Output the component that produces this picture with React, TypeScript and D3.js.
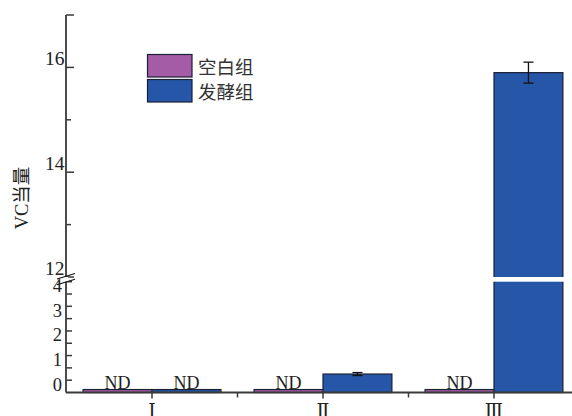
import React from "react";
import * as d3 from "d3";

// Sample groups along the x axis
const categories = ["Ⅰ", "Ⅱ", "Ⅲ"];
// Series names (legend)
const seriesNames = ["空白组", "发酵组"];
// Not-detected entries are drawn as a thin stub just above the baseline
const ND = -0.38;
const blankValues = [ND, ND, ND];
const fermentValues = [ND, 0.25, 15.9];
const fermentErrors = [0, 0.06, 0.2];
const blankLabels = ["ND", "ND", "ND"];
const fermentLabels = ["ND", "", ""];
// Axis ticks for the two segments of the broken y axis
const upperTicks = [12, 13, 14, 15, 16, 17];
const upperLabels = [12, 14, 16];
const lowerTicks = [0, 0.5, 1, 1.5, 2, 2.5, 3, 3.5, 4];
const lowerLabels = [0, 1, 2, 3, 4];

const W = 572;
const H = 416;
const AXIS_X = 66;
const BASE_Y = 392.5;
const colors = ["#a55ca6", "#2556a7"];
const outline = "#1b1f33";
const axisColor = "#3a3a3a";
const serif = "'Liberation Serif', 'Times New Roman', 'DejaVu Serif', serif";
const cjk = "'Noto Sans CJK SC', sans-serif";

export default function App() {
  const x = d3.scaleBand<string>().domain(categories).range([AXIS_X + 0.5, AXIS_X + 0.5 + 171 * 3]).padding(0);
  const yUpper = d3.scaleLinear().domain([12, 17]).range([277, 15]);
  const yLower = d3.scaleLinear().domain([-0.5, 4]).range([BASE_Y, 281.7]);
  const y = (v: number) => (v > 4 ? yUpper(v) : yLower(v));
  const barW = x.bandwidth() * 0.403;

  const series = [blankValues, fermentValues];
  const labels = [blankLabels, fermentLabels];

  return (
    <svg width={W} height={H} style={{ position: "absolute", left: 0, top: 0, background: "#fff" }}>
      <rect width={W} height={H} fill="#fff" />
      {/* bars */}
      {series.map((vals, s) =>
        vals.map((v, i) => {
          const cx = x(categories[i])! + x.bandwidth() / 2;
          const bx = s === 0 ? cx - barW : cx;
          const top = y(v);
          return (
            <g key={`b${s}-${i}`}>
              <rect x={bx} y={top} width={barW} height={BASE_Y - top} fill={colors[s]} stroke={outline} strokeWidth={1.2} />
              {v > 4 && (
                <rect x={bx - 1.5} y={yUpper(12)} width={barW + 3} height={yLower(4) - yUpper(12)} fill="#fff" />
              )}
            </g>
          );
        })
      )}
      {/* error bars */}
      {fermentValues.map((v, i) => {
        const e = fermentErrors[i];
        if (!e) return null;
        const cx = x(categories[i])! + x.bandwidth() / 2 + barW / 2;
        const y1 = y(v + e);
        const y2 = y(v - e);
        return (
          <g key={`e${i}`} stroke="#111" strokeWidth={1.3}>
            <line x1={cx} x2={cx} y1={y1} y2={y2} />
            <line x1={cx - 5} x2={cx + 5} y1={y1} y2={y1} />
            <line x1={cx - 5} x2={cx + 5} y1={y2} y2={y2} />
          </g>
        );
      })}
      {/* ND labels */}
      {labels.map((ls, s) =>
        ls.map((t, i) => {
          if (!t) return null;
          const cx = x(categories[i])! + x.bandwidth() / 2;
          const bx = s === 0 ? cx - barW / 2 : cx + barW / 2;
          return (
            <text key={`l${s}-${i}`} x={bx} y={y(series[s][i]) - 1} textAnchor="middle" fontFamily={serif} fontSize={18} fill="#222">
              {t}
            </text>
          );
        })
      )}
      {/* x axis */}
      <line x1={AXIS_X} x2={W} y1={BASE_Y} y2={BASE_Y} stroke={axisColor} strokeWidth={1.8} />
      {categories.map((c) => {
        const cx = x(c)! + x.bandwidth() / 2;
        return (
          <g key={`xt${c}`}>
            <line x1={cx} x2={cx} y1={BASE_Y - 3} y2={BASE_Y + 6} stroke={axisColor} strokeWidth={1.5} />
            <text x={cx} y={417} textAnchor="middle" fontFamily={serif} fontSize={19} fill="#222">
              {c}
            </text>
          </g>
        );
      })}
      {categories.slice(1).map((c) => (
        <line key={`xm${c}`} x1={x(c)!} x2={x(c)!} y1={BASE_Y} y2={BASE_Y + 5} stroke={axisColor} strokeWidth={1.5} />
      ))}
      {/* y axis */}
      <line x1={AXIS_X} x2={AXIS_X} y1={yUpper(17)} y2={BASE_Y} stroke={axisColor} strokeWidth={1.8} />
      {upperTicks.map((t) => (
        <line key={`ut${t}`} x1={AXIS_X} x2={AXIS_X + (t % 2 === 0 || t === 17 ? 8 : 5)} y1={yUpper(t)} y2={yUpper(t)} stroke={axisColor} strokeWidth={1.5} />
      ))}
      {upperLabels.map((t) => (
        <text key={`ul${t}`} x={64.5} y={yUpper(t) - 2} textAnchor="end" fontFamily={serif} fontSize={19.5} fill="#222">
          {t}
        </text>
      ))}
      {lowerTicks.map((t) => (
        <line key={`lt${t}`} x1={AXIS_X} x2={AXIS_X + 6} y1={yLower(t)} y2={yLower(t)} stroke={axisColor} strokeWidth={1.5} />
      ))}
      {lowerLabels.map((t) => (
        <text key={`ll${t}`} x={62} y={yLower(t) + 10.5} textAnchor="end" fontFamily={serif} fontSize={18.5} fill="#222">
          {t}
        </text>
      ))}
      {/* axis break marks */}
      <rect x={AXIS_X - 2} y={yUpper(12)} width={4} height={yLower(4) - yUpper(12)} fill="#fff" />
      <line x1={57} x2={75} y1={yUpper(12) + 2} y2={yUpper(12) - 3.5} stroke="#111" strokeWidth={1.2} />
      <line x1={57} x2={75} y1={yLower(4) + 3} y2={yLower(4) - 2.5} stroke="#111" strokeWidth={1.2} />
      {/* y axis title */}
      <text transform="translate(28,198) rotate(-90)" textAnchor="middle" fontFamily={`${serif}`} fontSize={18.5} fill="#222">
        <tspan fontFamily={serif}>VC</tspan>
        <tspan fontFamily={cjk}>当量</tspan>
      </text>
      {/* legend */}
      {seriesNames.map((n, i) => (
        <g key={`lg${i}`}>
          <rect x={147.5} y={54.5 + i * 25} width={44.5} height={22.5} fill={colors[i]} stroke={outline} strokeWidth={1.2} />
          <text x={198} y={66 + i * 24.5} dominantBaseline="central" fontFamily={cjk} fontSize={18.5} fill="#333">
            {n}
          </text>
        </g>
      ))}
    </svg>
  );
}
